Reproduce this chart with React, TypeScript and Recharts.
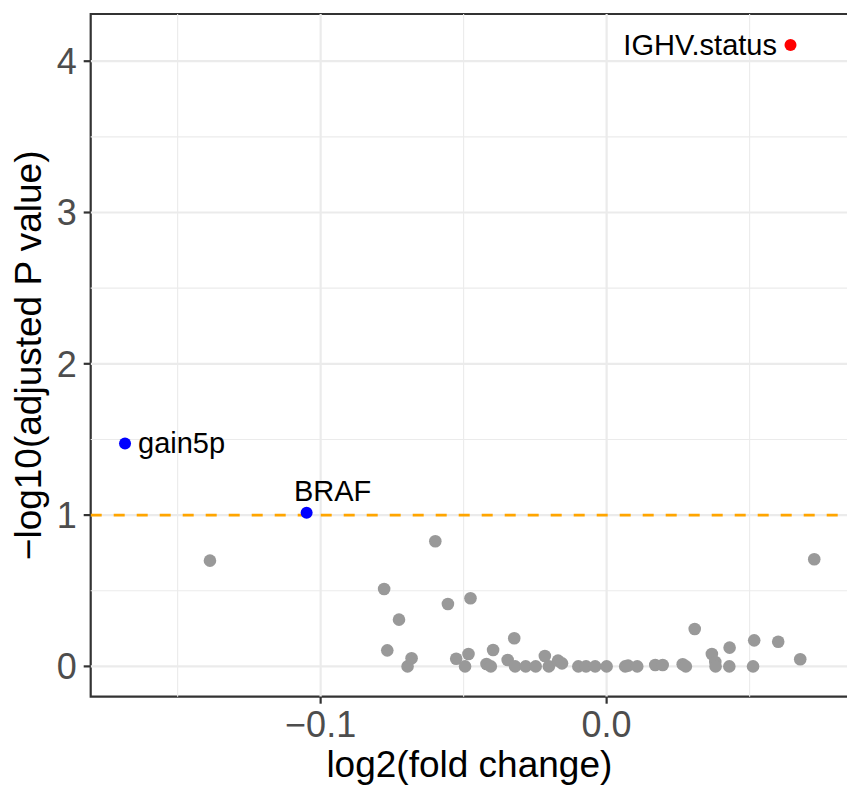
import React from 'react';
import { ScatterChart, Scatter, XAxis, YAxis, ReferenceLine, ReferenceArea } from 'recharts';

// non-significant features (grey)
const greyLfc = [
  -0.1387, -0.0599, -0.0778, -0.0555, -0.0476, -0.0726, -0.0767, -0.0696, -0.0682, -0.0526,
  -0.0495, -0.0483, -0.042, -0.0405, -0.0397, -0.0323, -0.0346, -0.032, -0.0283, -0.0248,
  -0.0216, -0.0202, -0.017, -0.0156, -0.0099, -0.0072, -0.004, 0.0, 0.0065, 0.0075,
  0.0107, 0.017, 0.0196, 0.0266, 0.0277, 0.0308, 0.0368, 0.038, 0.0381, 0.043,
  0.0429, 0.0516, 0.0512, 0.06, 0.0677, 0.0726,
];
const greyLogP = [
  0.699, 0.827, 0.512, 0.412, 0.45, 0.309, 0.106, 0.0, 0.054, 0.051,
  0.0, 0.082, 0.016, 0.0, 0.108, 0.186, 0.042, 0.0, 0.0, 0.0,
  0.069, 0.0, 0.038, 0.02, 0.0, 0.0, 0.0, 0.0, 0.0, 0.005,
  0.0, 0.009, 0.009, 0.014, 0.0, 0.247, 0.082, 0.029, 0.0, 0.124,
  0.0, 0.172, 0.0, 0.163, 0.047, 0.708,
];

// labelled features
const hitNames = ['IGHV.status', 'gain5p', 'BRAF'];
const hitLfc = [0.0643, -0.1684, -0.1049];
const hitLogP = [4.107, 1.474, 1.016];
const hitDirection = ['up', 'down', 'down'];

const xTicks = [-0.1, 0.0];
const yTicks = [0, 1, 2, 3, 4];
const xMinor = [-0.15, -0.05, 0.05];
const yMinor = [0.5, 1.5, 2.5, 3.5];
const cutoff = 1;

const X_DOMAIN: [number, number] = [-0.1804, 0.0851];
const Y_DOMAIN: [number, number] = [-0.2003, 4.312];

const FONT = '"Liberation Sans", Arial, sans-serif';

const greyData = greyLfc.map((v, i) => ({ lfc: v, nlp: greyLogP[i] }));
const hitData = hitNames.map((n, i) => ({ name: n, lfc: hitLfc[i], nlp: hitLogP[i], dir: hitDirection[i] }));

const labelStyle: Record<string, { dx: number; dy: number; anchor: 'start' | 'middle' | 'end' }> = {
  'IGHV.status': { dx: -13.5, dy: 10, anchor: 'end' },
  gain5p: { dx: 13, dy: 10, anchor: 'start' },
  BRAF: { dx: 26, dy: -12, anchor: 'middle' },
};

const GreyDot = (props: any) => {
  const { cx, cy } = props;
  return <circle cx={cx} cy={cy} r={6.3} fill="#999999" />;
};

const HitDot = (props: any) => {
  const { cx, cy, payload } = props;
  const s = labelStyle[payload.name];
  return (
    <g>
      <circle cx={cx} cy={cy} r={6} fill={payload.dir === 'up' ? '#ff0000' : '#0000ff'} />
      <text x={cx + s.dx} y={cy + s.dy} textAnchor={s.anchor} fontSize={29} fontFamily={FONT} fill="#000000">
        {payload.name}
      </text>
    </g>
  );
};

const XTitle = (props: any) => {
  const vb = props.viewBox || {};
  return (
    <text x={vb.x + vb.width / 2 - 1} y={vb.y + vb.height - 11} textAnchor="middle" fontSize={37} fontFamily={FONT} fill="#000000">
      log2(fold change)
    </text>
  );
};

const YTitle = (props: any) => {
  const vb = props.viewBox || {};
  const cy = vb.y + vb.height / 2;
  return (
    <text x={41} y={cy} transform={`rotate(-90, 41, ${cy})`} textAnchor="middle" fontSize={37} fontFamily={FONT} fill="#000000">
      −log10(adjusted P value)
    </text>
  );
};

const fmtX = (v: number) => (v < 0 ? '−' : '') + Math.abs(v).toFixed(1);

export default function App() {
  return (
    <div style={{ position: 'absolute', left: 0, top: 0, width: 847, height: 788, overflow: 'hidden', background: '#fff' }}>
      <ScatterChart width={850} height={788} margin={{ top: 14, right: 0, bottom: 0, left: 0 }}>
        {xMinor.map((v) => (
          <ReferenceLine key={'xm' + v} x={v} stroke="#ebebeb" strokeWidth={1.1} />
        ))}
        {yMinor.map((v) => (
          <ReferenceLine key={'ym' + v} y={v} stroke="#ebebeb" strokeWidth={1.1} />
        ))}
        {xTicks.map((v) => (
          <ReferenceLine key={'xM' + v} x={v} stroke="#ebebeb" strokeWidth={2.2} />
        ))}
        {yTicks.map((v) => (
          <ReferenceLine key={'yM' + v} y={v} stroke="#ebebeb" strokeWidth={2.2} />
        ))}
        <ReferenceLine y={cutoff} stroke="#ffa500" strokeWidth={2.8} strokeDasharray="11 12" />
        <XAxis
          type="number"
          dataKey="lfc"
          domain={X_DOMAIN}
          allowDataOverflow
          ticks={xTicks}
          tickFormatter={fmtX}
          height={91.3}
          axisLine={false}
          tickLine={{ stroke: '#333333', strokeWidth: 2.2 }}
          tickSize={7}
          tickMargin={8}
          tick={{ fontSize: 36, fill: '#4d4d4d', fontFamily: FONT }}
          label={<XTitle />}
        />
        <YAxis
          type="number"
          dataKey="nlp"
          domain={Y_DOMAIN}
          allowDataOverflow
          ticks={yTicks}
          width={90.7}
          axisLine={false}
          tickLine={{ stroke: '#333333', strokeWidth: 2.2 }}
          tickSize={7}
          tickMargin={7}
          tick={{ fontSize: 36, fill: '#4d4d4d', fontFamily: FONT }}
          label={<YTitle />}
        />
        <Scatter data={greyData} shape={<GreyDot />} isAnimationActive={false} />
        <Scatter data={hitData} shape={<HitDot />} isAnimationActive={false} />
        <ReferenceArea
          x1={X_DOMAIN[0]}
          x2={X_DOMAIN[1]}
          y1={Y_DOMAIN[0]}
          y2={Y_DOMAIN[1]}
          fill="none"
          fillOpacity={0}
          stroke="#333333"
          strokeWidth={2.2}
          ifOverflow="visible"
        />
      </ScatterChart>
    </div>
  );
}
